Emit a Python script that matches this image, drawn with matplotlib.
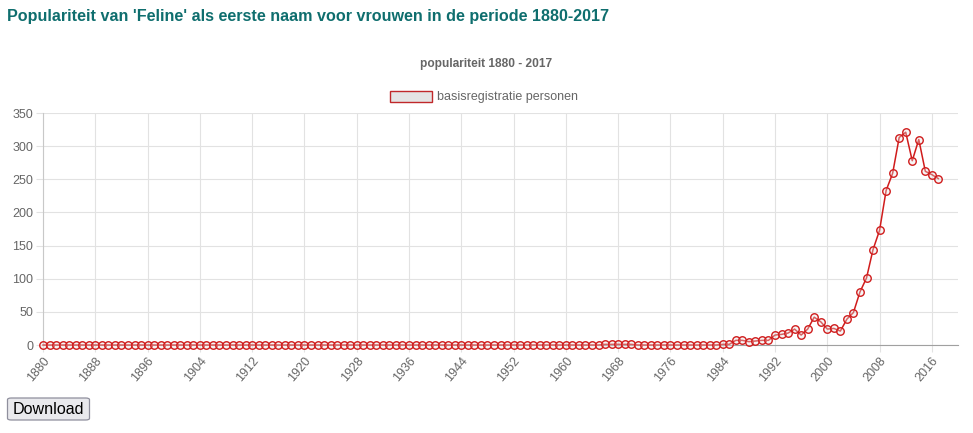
import matplotlib
matplotlib.use("Agg")
import matplotlib.pyplot as plt
from matplotlib.patches import Rectangle, FancyBboxPatch

plt.rcParams['font.family'] = ['Liberation Sans', 'DejaVu Sans']

title = "Populariteit van 'Feline' als eerste naam voor vrouwen in de periode 1880-2017"
subtitle = "populariteit 1880 - 2017"
series_name = "basisregistratie personen"

years = list(range(1880, 2018))
values = [
    0, 0, 0, 0, 0, 0, 0, 0, 0, 0,   # 1880-1889
    0, 0, 0, 0, 0, 0, 0, 0, 0, 0,   # 1890-1899
    0, 0, 0, 0, 0, 0, 0, 0, 0, 0,   # 1900-1909
    0, 0, 0, 0, 0, 0, 0, 0, 0, 0,   # 1910-1919
    0, 0, 0, 0, 0, 0, 0, 0, 0, 0,   # 1920-1929
    0, 0, 0, 0, 0, 0, 0, 0, 0, 0,   # 1930-1939
    0, 0, 0, 0, 0, 0, 0, 0, 0, 0,   # 1940-1949
    0, 0, 0, 0, 0, 0, 0, 0, 0, 0,   # 1950-1959
    0, 0, 0, 0, 0, 0, 1, 1, 1, 1,   # 1960-1969
    1, 0, 0, 0, 0, 0, 0, 0, 0, 0,   # 1970-1979
    0, 0, 0, 0, 1, 1, 7, 7, 5, 6,   # 1980-1989
    7, 7, 15, 16, 18, 24, 15, 24, 42, 35,   # 1990-1999
    24, 25, 21, 39, 49, 80, 101, 144, 173, 233,  # 2000-2009
    259, 313, 321, 278, 310, 262, 257, 251,  # 2010-2017
]
x_tick_labels = list(range(1880, 2017, 8))
y_ticks = [0, 50, 100, 150, 200, 250, 300, 350]

W, H = 973, 433
fig = plt.figure(figsize=(W / 100, H / 100), dpi=100)
ax = fig.add_axes([43 / W, 1 - 345 / H, (958 - 43) / W, (345 - 113) / H])

grid_c = '#e2e2e2'
text_c = '#666666'
red = '#d01c1c'

ax.plot(years, values, color=red, lw=1.1, marker='o', ms=5.4,
        mfc=(0.9, 0.9, 0.9, 0.35), mec=red, mew=1.0, zorder=3, clip_on=False)

ax.set_xlim(1880, 2020)
ax.set_ylim(0, 350)
ax.set_xticks(x_tick_labels)
ax.set_xticklabels([str(v) for v in x_tick_labels], rotation=50, ha='right',
                   rotation_mode='anchor', color=text_c, fontsize=9)
ax.set_yticks(y_ticks)
ax.set_yticklabels([str(v) for v in y_ticks], color=text_c, fontsize=9)
ax.grid(True, color=grid_c, lw=0.8)
ax.set_axisbelow(True)
ax.tick_params(axis='both', length=5, color=grid_c, width=0.8, pad=2)
for s in ['top', 'right']:
    ax.spines[s].set_visible(False)
ax.spines['left'].set_color('#c8c8c8')
ax.spines['bottom'].set_color('#a0a0a0')
ax.spines['left'].set_linewidth(0.8)
ax.spines['bottom'].set_linewidth(0.8)

fig.text(7 / W, 1 - 16 / H, title, fontsize=11.6, fontweight='bold',
         color='#0f6e6e', ha='left', va='center')
fig.text(486 / W, 1 - 64 / H, subtitle, fontsize=8.6, fontweight='bold',
         color=text_c, ha='center', va='center')
fig.patches.append(Rectangle((390 / W, 1 - 102 / H), 42 / W, 11 / H,
                             transform=fig.transFigure, facecolor='#e4e4e4',
                             edgecolor='#c0282a', lw=1.0))
fig.text(437 / W, 1 - 97 / H, series_name, fontsize=9, color=text_c,
         ha='left', va='center')

fig.patches.append(FancyBboxPatch((7.5 / W, 1 - 420 / H), 82 / W, 22 / H,
                                  boxstyle='round,pad=0,rounding_size=0.004',
                                  transform=fig.transFigure, facecolor='#e9e9ed',
                                  edgecolor='#8f8f9d', lw=0.9))
fig.text(48.5 / W, 1 - 409 / H, 'Download', fontsize=11.6, color='black',
         ha='center', va='center')

fig.savefig('out.png', dpi=100)
